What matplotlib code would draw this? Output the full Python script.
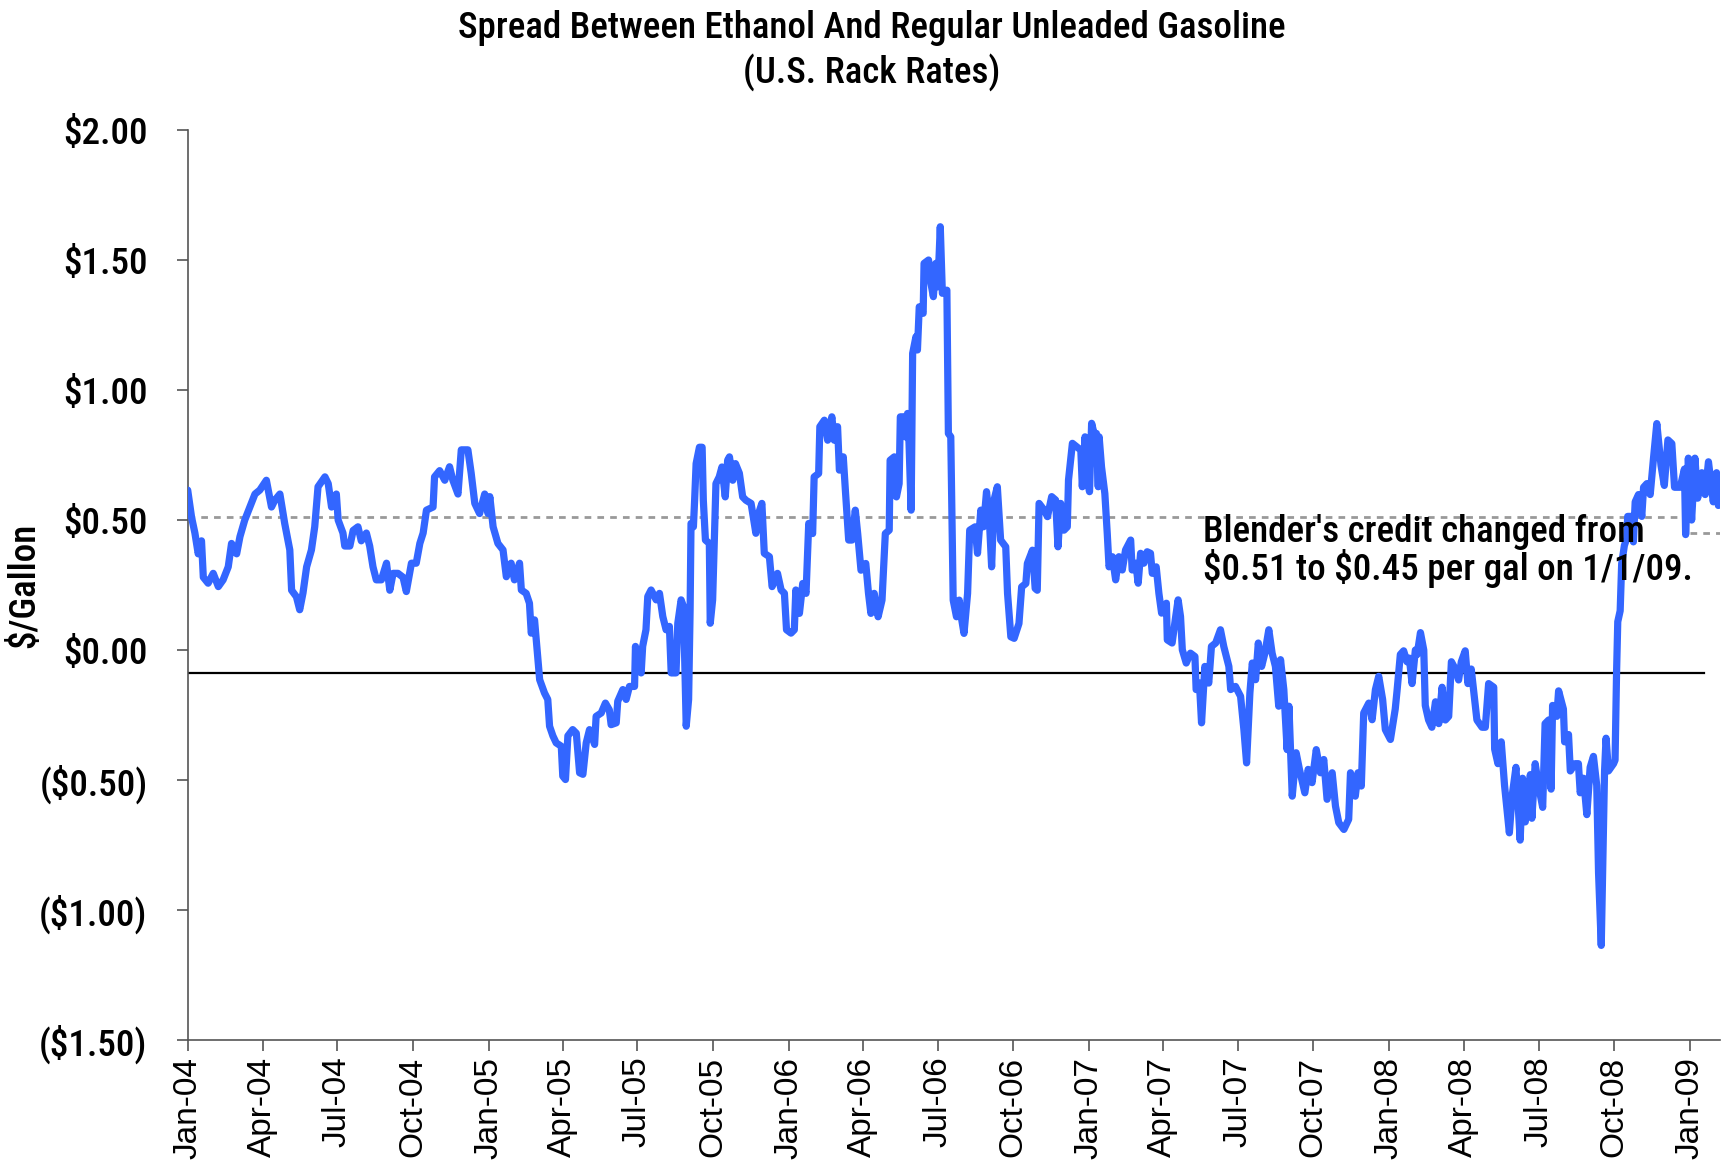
import os
import numpy as np
import pandas as pd
import matplotlib
matplotlib.use("Agg")
import matplotlib.pyplot as plt
import matplotlib.dates as mdates
from matplotlib import font_manager as fm
from matplotlib.ticker import FuncFormatter

# Spread ethanol - regular unleaded ($/gal)
# t_years = years since 1 Jan 2004
t_years = [
    0.000, 0.013, 0.024, 0.035, 0.046, 0.052, 0.068, 0.085, 0.102, 0.118,
    0.135, 0.146, 0.163, 0.174, 0.190, 0.207, 0.224, 0.240, 0.262, 0.279,
    0.290, 0.307, 0.323, 0.340, 0.346, 0.362, 0.373, 0.384, 0.396, 0.412,
    0.423, 0.434, 0.457, 0.468, 0.479, 0.495, 0.501, 0.517, 0.523, 0.540,
    0.551, 0.567, 0.578, 0.595, 0.606, 0.617, 0.628, 0.645, 0.662, 0.673,
    0.684, 0.700, 0.717, 0.728, 0.745, 0.761, 0.773, 0.784, 0.795, 0.817,
    0.822, 0.839, 0.856, 0.872, 0.883, 0.900, 0.911, 0.933, 0.944, 0.956,
    0.972, 0.989, 1.000, 1.006, 1.017, 1.033, 1.050,
    # 2005
    1.061, 1.077, 1.088, 1.105, 1.111, 1.127, 1.138, 1.144, 1.155, 1.172,
    1.188, 1.199, 1.205, 1.216, 1.227, 1.244, 1.249, 1.258, 1.266, 1.282,
    1.294, 1.305, 1.316, 1.327, 1.338, 1.355, 1.360, 1.377, 1.391, 1.404,
    1.410, 1.427, 1.432, 1.449, 1.460, 1.471, 1.488, 1.491, 1.499, 1.510,
    1.515, 1.526, 1.532, 1.543, 1.560, 1.571, 1.582, 1.593, 1.604, 1.610,
    1.626, 1.632, 1.643, 1.651, 1.660, 1.668, 1.673, 1.676, 1.684, 1.688,
    1.693, 1.704, 1.713, 1.717, 1.724, 1.737, 1.740, 1.748, 1.759, 1.770,
    1.779, 1.790, 1.798, 1.804, 1.815, 1.824, 1.837, 1.848, 1.859, 1.876,
    1.892, 1.901, 1.912, 1.920, 1.937, 1.946, 1.964, 1.976, 1.987, 1.994,
    2.009, 2.020, 2.025,
    # 2006
    2.037, 2.048, 2.059, 2.068, 2.081, 2.086, 2.101, 2.105, 2.120, 2.131,
    2.145, 2.153, 2.164, 2.170, 2.183, 2.190, 2.201, 2.212, 2.223, 2.231,
    2.242, 2.258, 2.267, 2.275, 2.286, 2.299, 2.312, 2.323, 2.336, 2.339,
    2.353, 2.360, 2.369, 2.373, 2.383, 2.389, 2.397, 2.402, 2.409, 2.414,
    2.425, 2.430, 2.436, 2.449, 2.452, 2.467, 2.475, 2.483, 2.491, 2.498,
    2.506, 2.513, 2.528, 2.533, 2.541, 2.549, 2.560, 2.569, 2.574, 2.585,
    2.597, 2.604, 2.622, 2.630, 2.641, 2.650, 2.660, 2.669, 2.677, 2.685,
    2.696, 2.707, 2.724, 2.730, 2.741, 2.752, 2.768, 2.777, 2.791, 2.796,
    2.813, 2.822, 2.829, 2.835, 2.852, 2.863, 2.877, 2.890, 2.898, 2.907,
    2.918, 2.929, 2.933, 2.946, 2.960, 2.974, 2.979, 2.988, 2.996, 3.003,
    3.010, 3.018, 3.026, 3.032,
    # 2007
    3.035, 3.043, 3.054, 3.062, 3.068, 3.079, 3.090, 3.101, 3.112, 3.123,
    3.140, 3.145, 3.157, 3.165, 3.173, 3.184, 3.195, 3.206, 3.212, 3.225,
    3.234, 3.243, 3.259, 3.262, 3.278, 3.290, 3.298, 3.306, 3.312, 3.325,
    3.339, 3.354, 3.358, 3.369, 3.376, 3.387, 3.400, 3.409, 3.423, 3.439,
    3.450, 3.467, 3.473, 3.489, 3.506, 3.517, 3.526, 3.537, 3.545, 3.556,
    3.565, 3.576, 3.587, 3.600, 3.611, 3.622, 3.633, 3.639, 3.650, 3.661,
    3.667, 3.678, 3.691, 3.702, 3.720, 3.731, 3.744, 3.758, 3.772, 3.783,
    3.794, 3.811, 3.822, 3.833, 3.850, 3.866, 3.872, 3.888, 3.897, 3.908,
    3.916, 3.933, 3.944, 3.955, 3.966, 3.979, 3.988, 4.005,
    # 2008
    4.021, 4.027, 4.038, 4.049, 4.060, 4.068, 4.077, 4.088, 4.094, 4.105,
    4.116, 4.121, 4.132, 4.143, 4.155, 4.166, 4.177, 4.188, 4.199, 4.208,
    4.221, 4.232, 4.241, 4.254, 4.263, 4.274, 4.282, 4.293, 4.310, 4.321,
    4.332, 4.349, 4.352, 4.363, 4.374, 4.385, 4.401, 4.410, 4.423, 4.437,
    4.445, 4.454, 4.471, 4.476, 4.487, 4.498, 4.512, 4.520, 4.532, 4.540,
    4.545, 4.559, 4.565, 4.581, 4.585, 4.598, 4.604, 4.620, 4.631, 4.637,
    4.648, 4.659, 4.670, 4.681, 4.692, 4.698, 4.707, 4.718, 4.723, 4.731,
    4.748, 4.753, 4.758, 4.762, 4.770, 4.775, 4.784, 4.792, 4.795, 4.807,
    4.814, 4.820, 4.831, 4.842, 4.848, 4.859, 4.870, 4.881, 4.892, 4.906,
    4.917, 4.929, 4.942, 4.951, 4.970, 4.984, 4.988, 4.997,
    # 2009
    5.008, 5.019, 5.028, 5.042, 5.053, 5.064, 5.080, 5.091, 5.097,
]

spread = [
    0.615, 0.51, 0.45, 0.37, 0.42, 0.28, 0.257, 0.295, 0.244, 0.27,
    0.32, 0.41, 0.37, 0.436, 0.50, 0.55, 0.60, 0.615, 0.653, 0.55,
    0.576, 0.60, 0.487, 0.385, 0.23, 0.205, 0.155, 0.22, 0.32, 0.385,
    0.474, 0.628, 0.666, 0.64, 0.55, 0.60, 0.50, 0.45, 0.40, 0.40,
    0.46, 0.474, 0.42, 0.45, 0.40, 0.32, 0.27, 0.27, 0.334, 0.23,
    0.295, 0.295, 0.28, 0.225, 0.334, 0.334, 0.41, 0.45, 0.538, 0.55,
    0.666, 0.69, 0.653, 0.705, 0.653, 0.60, 0.77, 0.77, 0.68, 0.564,
    0.525, 0.60, 0.525, 0.59, 0.474, 0.41, 0.385,
    # 2005
    0.282, 0.334, 0.27, 0.334, 0.231, 0.218, 0.18, 0.065, 0.116, -0.114,
    -0.165, -0.19, -0.293, -0.33, -0.357, -0.37, -0.485, -0.498, -0.33, -0.306,
    -0.32, -0.472, -0.478, -0.357, -0.306, -0.363, -0.255, -0.242, -0.204, -0.23,
    -0.287, -0.28, -0.197, -0.152, -0.19, -0.14, -0.14, 0.014, -0.063, -0.088,
    0.014, 0.078, 0.206, 0.231, 0.193, 0.218, 0.129, 0.078, 0.091, -0.088,
    -0.088, 0.103, 0.193, 0.167, -0.293, -0.19, 0.155, 0.487, 0.474, 0.576,
    0.717, 0.78, 0.78, 0.576, 0.423, 0.41, 0.103, 0.193, 0.64, 0.666,
    0.704, 0.589, 0.73, 0.743, 0.653, 0.717, 0.68, 0.589, 0.576, 0.564,
    0.449, 0.525, 0.564, 0.372, 0.359, 0.244, 0.295, 0.231, 0.218, 0.078,
    0.065, 0.078, 0.231,
    # 2006
    0.141, 0.256, 0.218, 0.487, 0.448, 0.666, 0.679, 0.859, 0.884, 0.807,
    0.897, 0.807, 0.859, 0.692, 0.743, 0.615, 0.423, 0.423, 0.538, 0.448,
    0.307, 0.333, 0.218, 0.141, 0.218, 0.128, 0.192, 0.448, 0.461, 0.73,
    0.743, 0.589, 0.64, 0.897, 0.897, 0.82, 0.91, 0.795, 0.538, 1.141,
    1.205, 1.154, 1.32, 1.295, 1.487, 1.50, 1.41, 1.359, 1.487, 1.397,
    1.628, 1.372, 1.384, 0.833, 0.82, 0.192, 0.128, 0.192, 0.141, 0.064,
    0.218, 0.461, 0.474, 0.372, 0.538, 0.474, 0.609, 0.513, 0.32, 0.577,
    0.628, 0.423, 0.397, 0.218, 0.051, 0.045, 0.102, 0.243, 0.256, 0.333,
    0.384, 0.237, 0.23, 0.564, 0.538, 0.513, 0.59, 0.577, 0.397, 0.564,
    0.461, 0.474, 0.654, 0.795, 0.782, 0.769, 0.628, 0.82, 0.654, 0.609,
    0.872, 0.833, 0.833, 0.628,
    # 2007
    0.82, 0.704, 0.602, 0.449, 0.32, 0.359, 0.27, 0.359, 0.308, 0.385,
    0.423, 0.308, 0.334, 0.257, 0.372, 0.334, 0.378, 0.372, 0.295, 0.32,
    0.218, 0.142, 0.18, 0.039, 0.027, 0.129, 0.193, 0.129, 0.001, -0.05,
    -0.012, -0.025, -0.152, -0.127, -0.28, -0.063, -0.127, 0.014, 0.027, 0.078,
    0.014, -0.063, -0.152, -0.14, -0.178, -0.306, -0.434, -0.165, -0.05, -0.114,
    0.027, -0.063, -0.012, 0.078, -0.012, -0.063, -0.216, -0.037, -0.152, -0.383,
    -0.216, -0.562, -0.395, -0.459, -0.549, -0.459, -0.51, -0.383, -0.472, -0.421,
    -0.574, -0.472, -0.60, -0.664, -0.69, -0.651, -0.472, -0.562, -0.472, -0.523,
    -0.242, -0.204, -0.268, -0.152, -0.101, -0.19, -0.306, -0.344,
    # 2008
    -0.227, -0.157, -0.017, -0.003, -0.045, -0.031, -0.129, 0.0, -0.017, 0.067,
    0.0, -0.213, -0.269, -0.297, -0.199, -0.283, -0.143, -0.269, -0.255, -0.045,
    -0.073, -0.115, -0.045, -0.003, -0.129, -0.073, -0.157, -0.269, -0.297, -0.297,
    -0.129, -0.143, -0.381, -0.437, -0.353, -0.521, -0.703, -0.563, -0.451, -0.731,
    -0.493, -0.661, -0.479, -0.647, -0.437, -0.521, -0.605, -0.283, -0.269, -0.535,
    -0.213, -0.255, -0.157, -0.227, -0.353, -0.325, -0.465, -0.437, -0.437, -0.549,
    -0.493, -0.633, -0.451, -0.409, -0.521, -0.857, -1.136, -0.465, -0.339, -0.465,
    -0.437, -0.423, -0.087, 0.109, 0.151, 0.332, 0.402, 0.43, 0.514, 0.514,
    0.416, 0.57, 0.598, 0.514, 0.626, 0.64, 0.598, 0.738, 0.871, 0.71,
    0.633, 0.808, 0.794, 0.626, 0.626, 0.696, 0.444, 0.738,
    # 2009
    0.50, 0.738, 0.584, 0.682, 0.598, 0.724, 0.57, 0.682, 0.556,
]

credit_dates = ["2004-01-01", "2009-01-01", "2009-01-01", "2009-02-08"]
credit_vals = [0.51, 0.51, 0.45, 0.45]

start = pd.Timestamp("2004-01-01")
dates = start + pd.to_timedelta(np.array(t_years) * 365.25, unit="D")


# look for a narrow / condensed sans on the system
def find_narrow():
    wanted = ["liberationsansnarrowregular", "liberationsansnarrow", "arialnarrow",
              "robotocondensedmedium", "robotocondensedregular", "robotocondensed",
              "notosanscondensedmedium", "notosanscondensed",
              "notosanscondensedregular", "dejavusanscondensed",
              "opensanscondensedregular", "opensanscondensed"]
    paths = set(f.fname for f in fm.fontManager.ttflist)
    try:
        paths |= set(fm.findSystemFonts())
    except Exception:
        pass
    names = {}
    for p in paths:
        b = os.path.splitext(os.path.basename(p))[0].lower()
        b = b.replace("-", "").replace("_", "").replace(" ", "")
        names.setdefault(b, p)
    for w in wanted:
        if w in names:
            return fm.FontProperties(fname=names[w])
    return fm.FontProperties(family="DejaVu Sans", stretch="condensed")


narrow = find_narrow()
regular = ["Liberation Sans", "DejaVu Sans"]

fig = plt.figure(figsize=(17.22, 11.66), dpi=100)
ax = fig.add_axes([0.109, 0.108, 0.890, 0.7805])

# blender's credit (dashed) and reference line
ax.plot(pd.to_datetime(credit_dates[:2]), credit_vals[:2], color="#999999",
        lw=2.0, dashes=(2.4, 2.2), zorder=1)
ax.plot(pd.to_datetime(credit_dates[2:]), credit_vals[2:], color="#999999",
        lw=2.0, dashes=(2.4, 2.2), zorder=1)
ax.plot(pd.to_datetime(["2004-01-01", "2009-01-18"]), [-0.09, -0.09],
        color="black", lw=1.6, zorder=2)

ax.plot(dates, spread, color="#3366FF", lw=5.2, solid_joinstyle="round",
        solid_capstyle="round", zorder=3)

ax.set_xlim(pd.Timestamp("2004-01-01"), pd.Timestamp("2009-02-07"))
ax.set_ylim(-1.5, 2.0)
ax.set_yticks(np.arange(-1.5, 2.01, 0.5))


def dollar(v, pos):
    if v < -1e-9:
        return "(${:.2f})".format(-v)
    return "${:.2f}".format(abs(v))


ax.yaxis.set_major_formatter(FuncFormatter(dollar))
ax.xaxis.set_major_locator(mdates.MonthLocator(bymonth=[1, 4, 7, 10]))
ax.xaxis.set_major_formatter(mdates.DateFormatter("%b-%y"))

for s in ["top", "right"]:
    ax.spines[s].set_visible(False)
for s in ["left", "bottom"]:
    ax.spines[s].set_color("#555555")
    ax.spines[s].set_linewidth(1.2)

ax.tick_params(axis="y", direction="out", length=8, width=1.2, color="#555555", pad=21)
ax.tick_params(axis="x", direction="out", length=8, width=1.2, color="#555555", pad=4)

for lab in ax.get_xticklabels():
    lab.set_fontfamily(regular)
    lab.set_fontsize(24)
    lab.set_rotation(90)

# condensed texts
size = 25
ylabs = ax.get_yticklabels()
for lab in ylabs:
    lab.set_fontproperties(narrow)
    lab.set_fontsize(size)

ylab = ax.set_ylabel("$/Gallon", fontproperties=narrow, fontsize=size)
ax.yaxis.set_label_coords(-0.0946, 0.5)

t1 = fig.text(0.506, 0.9674, "Spread Between Ethanol And Regular Unleaded Gasoline",
              ha="center", va="baseline", fontproperties=narrow, fontsize=size)
t2 = fig.text(0.506, 0.9288, "(U.S. Rack Rates)",
              ha="center", va="baseline", fontproperties=narrow, fontsize=size)

note_x = pd.Timestamp("2007-05-20")
n1 = ax.text(note_x, 0.455, "Blender's credit changed from", fontproperties=narrow,
             fontsize=size, ha="left", va="center", parse_math=False)
n2 = ax.text(note_x, 0.315, "$0.51 to $0.45 per gal on 1/1/09.", fontproperties=narrow,
             fontsize=size, ha="left", va="center", parse_math=False)

# match the width of the title line to the original (about 830 px)
fig.canvas.draw()
w = t1.get_window_extent().width
k = min(1.25, max(0.7, 830.0 / w))
for t in [t1, t2, n1, n2, ylab] + list(ylabs):
    t.set_fontsize(size * k)

fig.savefig("out.png", dpi=100)
